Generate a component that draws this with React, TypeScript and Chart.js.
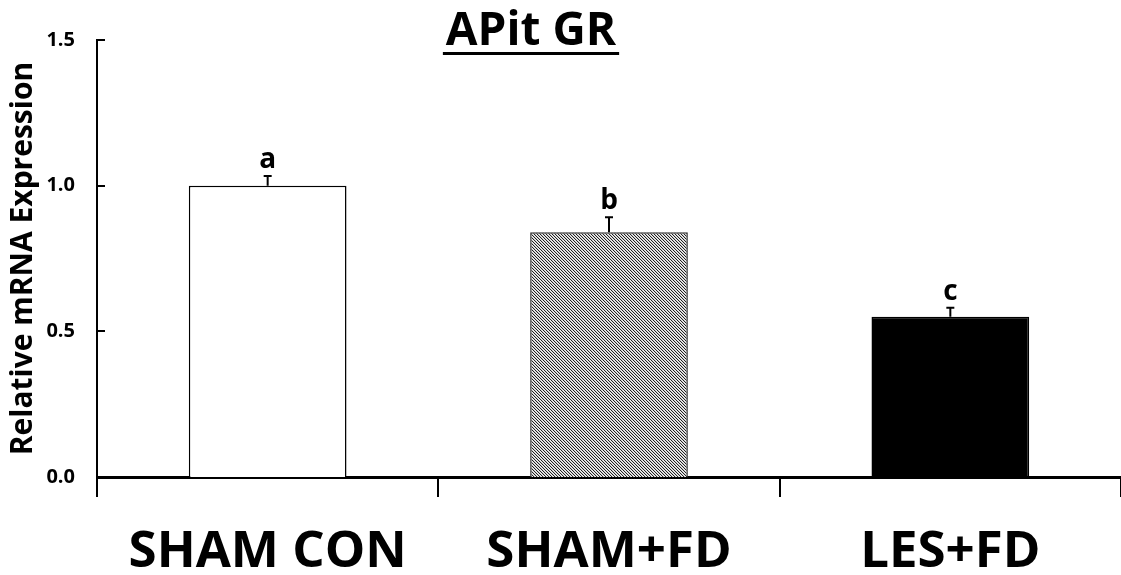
import { useEffect, useRef } from "react";
import { Chart, registerables } from "chart.js";

Chart.register(...registerables);

const categories = ["SHAM CON", "SHAM+FD", "LES+FD"];
const means = [1.0, 0.84, 0.55];
const errors = [0.033, 0.052, 0.031];
const letters = ["a", "b", "c"];
const yTicks = [0, 0.5, 1.0, 1.5];
const chartTitle = "APit GR";
const yTitle = "Relative mRNA Expression";

const FONT = "'Open Sans', sans-serif";

function makeHatch(): CanvasPattern | string {
  const c = document.createElement("canvas");
  c.width = 3;
  c.height = 3;
  const g = c.getContext("2d");
  if (!g) return "#999";
  const cols = ["#222", "#cfcfcf", "#f0f0f0"];
  for (let x = 0; x < 3; x++) {
    for (let y = 0; y < 3; y++) {
      g.fillStyle = cols[(x - y + 3) % 3];
      g.fillRect(x, y, 1, 1);
    }
  }
  const p = g.createPattern(c, "repeat");
  return p || "#999";
}

const decorPlugin = {
  id: "decor",
  afterDatasetsDraw(chart: any) {
    const ctx = chart.ctx;
    const yScale = chart.scales.y;
    const meta = chart.getDatasetMeta(0);
    ctx.save();
    ctx.strokeStyle = "#000";
    ctx.fillStyle = "#000";
    ctx.lineWidth = 2;
    meta.data.forEach((bar: any, i: number) => {
      const x = bar.x;
      const yBar = yScale.getPixelForValue(means[i]);
      const yTop = yScale.getPixelForValue(means[i] + errors[i]);
      ctx.beginPath();
      ctx.moveTo(x, yBar);
      ctx.lineTo(x, yTop);
      ctx.moveTo(x - 4, yTop);
      ctx.lineTo(x + 4, yTop);
      ctx.stroke();
      ctx.font = `bold 28px ${FONT}`;
      ctx.textAlign = "center";
      ctx.textBaseline = "alphabetic";
      ctx.fillText(letters[i], x, yTop - 8);
    });
    ctx.restore();
  },
  afterDraw(chart: any) {
    const ctx = chart.ctx;
    const area = chart.chartArea;
    const yScale = chart.scales.y;
    ctx.save();
    ctx.strokeStyle = "#000";
    ctx.lineWidth = 2;
    yScale.ticks.forEach((t: any) => {
      const py = Math.round(yScale.getPixelForValue(t.value));
      ctx.beginPath();
      ctx.moveTo(area.left, py);
      ctx.lineTo(area.left + 8, py);
      ctx.stroke();
    });
    // title
    ctx.font = `bold 46px ${FONT}`;
    ctx.fillStyle = "#000";
    ctx.textAlign = "center";
    ctx.textBaseline = "alphabetic";
    const cx = 531;
    ctx.fillText(chartTitle, cx, 45);
    const w = ctx.measureText(chartTitle).width;
    ctx.fillRect(cx - w / 2 - 3, 52, w + 6, 3);
    ctx.restore();
  },
};

export default function App() {
  const ref = useRef<HTMLCanvasElement | null>(null);
  useEffect(() => {
    if (!ref.current) return;
    const hatch = makeHatch();
    const chart = new Chart(ref.current, {
      type: "bar",
      data: {
        labels: categories,
        datasets: [
          {
            data: means,
            backgroundColor: ["#ffffff", hatch as any, "#000000"],
            borderColor: ["#000", "#333", "#000"],
            borderWidth: 1.5,
            barPercentage: 0.462,
            categoryPercentage: 1,
          },
        ],
      },
      options: {
        responsive: false,
        animation: false,
        layout: { padding: { top: 40, left: 0, right: 0, bottom: 0 } },
        plugins: {
          legend: { display: false },
          tooltip: { enabled: false },
          title: { display: false },
        },
        scales: {
          x: {
            offset: true,
            grid: {
              display: true,
              offset: true,
              drawOnChartArea: false,
              drawTicks: true,
              tickLength: 20,
              color: "#000",
              lineWidth: 2,
            },
            border: { display: true, color: "#000", width: 3 },
            ticks: {
              color: "#000",
              font: { family: FONT, size: 51, weight: "bold" },
              padding: 25,
              maxRotation: 0,
              autoSkip: false,
            },
            afterFit: (s: any) => {
              s.height = 98;
            },
          },
          y: {
            min: 0,
            max: 1.5,
            afterBuildTicks: (s: any) => {
              s.ticks = yTicks.map((v) => ({ value: v }));
            },
            grid: { display: false, drawTicks: false },
            border: { display: true, color: "#000", width: 2 },
            ticks: {
              color: "#000",
              font: { family: FONT, size: 20, weight: "bold" },
              padding: 22,
              callback: (v: any) => Number(v).toFixed(1),
            },
            title: {
              display: true,
              text: yTitle,
              color: "#000",
              font: { family: FONT, size: 30, weight: "bold" },
              padding: { top: 5, bottom: 0 },
            },
            afterFit: (s: any) => {
              s.width = 97;
            },
          },
        },
      },
      plugins: [decorPlugin],
    });
    return () => chart.destroy();
  }, []);
  return (
    <div style={{ position: "fixed", left: 0, top: 0, width: 1121, height: 575, background: "#fff" }}>
      <canvas ref={ref} width={1121} height={575} />
    </div>
  );
}
